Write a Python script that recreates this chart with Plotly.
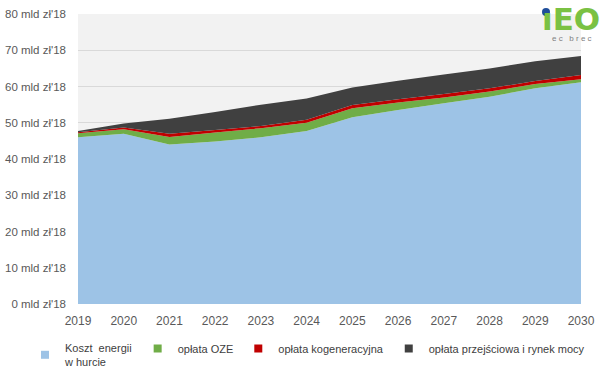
import plotly.graph_objects as go

years = [2019, 2020, 2021, 2022, 2023, 2024, 2025, 2026, 2027, 2028, 2029, 2030]
koszt_energii = [46.0, 47.0, 44.0, 44.8, 46.0, 47.7, 51.5, 53.5, 55.4, 57.2, 59.5, 61.2]
oplata_oze = [1.1, 1.2, 2.1, 2.5, 2.5, 2.3, 2.5, 2.1, 1.6, 1.4, 1.2, 0.8]
oplata_kog = [0.3, 0.5, 0.9, 0.7, 0.6, 0.8, 0.9, 0.9, 0.9, 0.9, 0.8, 1.2]
oplata_przej = [0.3, 1.1, 4.1, 5.0, 5.9, 5.9, 4.8, 5.1, 5.4, 5.5, 5.5, 5.2]

y_ticks = [0, 10, 20, 30, 40, 50, 60, 70, 80]
y_tick_labels = [f"{v} mld zł'18" for v in y_ticks]

series = [
    ("Koszt  energii<br>w hurcie", koszt_energii, "#9DC3E6"),
    ("opłata OZE", oplata_oze, "#70AD47"),
    ("opłata kogeneracyjna", oplata_kog, "#C00000"),
    ("opłata przejściowa i rynek mocy", oplata_przej, "#404040"),
]

fig = go.Figure()
for name, vals, col in series:
    fig.add_trace(go.Scatter(
        x=years, y=vals, name=name, stackgroup="one", mode="none",
        fill="tonexty", fillcolor=col, line=dict(width=0, color=col),
        showlegend=False,
    ))
# legend entries with small square symbols
for name, vals, col in series:
    fig.add_trace(go.Scatter(
        x=[None], y=[None], name=name, mode="markers",
        marker=dict(symbol="square", size=8, color=col), showlegend=True,
    ))

W, H = 616, 388
L, R, T, B = 78, 616 - 581, 14, 388 - 304
PW, PH = W - L - R, H - T - B

def px(xs):
    return (xs - L) / PW

def py(ys):
    return (H - B - ys) / PH

fig.update_layout(
    width=W, height=H,
    margin=dict(l=L, r=R, t=T, b=B, autoexpand=False),
    paper_bgcolor="white", plot_bgcolor="#F2F2F2",
    font=dict(family="Liberation Sans, Arial, sans-serif", size=11, color="#595959"),
    showlegend=True,
    legend=dict(orientation="h", x=px(25), y=py(334), xanchor="left", yanchor="top",
                font=dict(size=11, color="#404040"), itemwidth=30,
                traceorder="normal", bgcolor="rgba(0,0,0,0)"),
    xaxis=dict(range=[2019, 2030], tickmode="array", tickvals=years,
               ticktext=[str(y) for y in years], showgrid=False, zeroline=False,
               showline=False, ticks="", automargin=False, ticklabelstandoff=8,
               tickfont=dict(size=12, color="#595959")),
    yaxis=dict(range=[0, 80], tickmode="array", tickvals=y_ticks, ticktext=y_tick_labels,
               showgrid=True, gridcolor="#D9D9D9", gridwidth=1, zeroline=False,
               showline=False, ticks="", ticklabelstandoff=11, automargin=False,
               tickfont=dict(size=11.5, color="#595959")),
)

fig.add_annotation(xref="paper", yref="paper", x=px(571), y=py(19), text="<b>ıEO</b>",
                   showarrow=False, font=dict(family="DejaVu Sans, Arial", size=31, color="#7AC143"),
                   xanchor="center", yanchor="middle", borderpad=0)
fig.add_shape(type="circle", xref="paper", yref="paper",
              x0=px(542), x1=px(550), y0=py(16), y1=py(8),
              fillcolor="#1F4E9A", line=dict(width=0))
fig.add_annotation(xref="paper", yref="paper", x=px(572), y=py(38), text="e c   b r e c",
                   showarrow=False, font=dict(family="Liberation Sans, Arial", size=8, color="#7F7F7F"),
                   xanchor="center", yanchor="middle", borderpad=0)

fig.write_html("out.html", post_script="document.body.style.margin='0';",
               config={"displayModeBar": False})
